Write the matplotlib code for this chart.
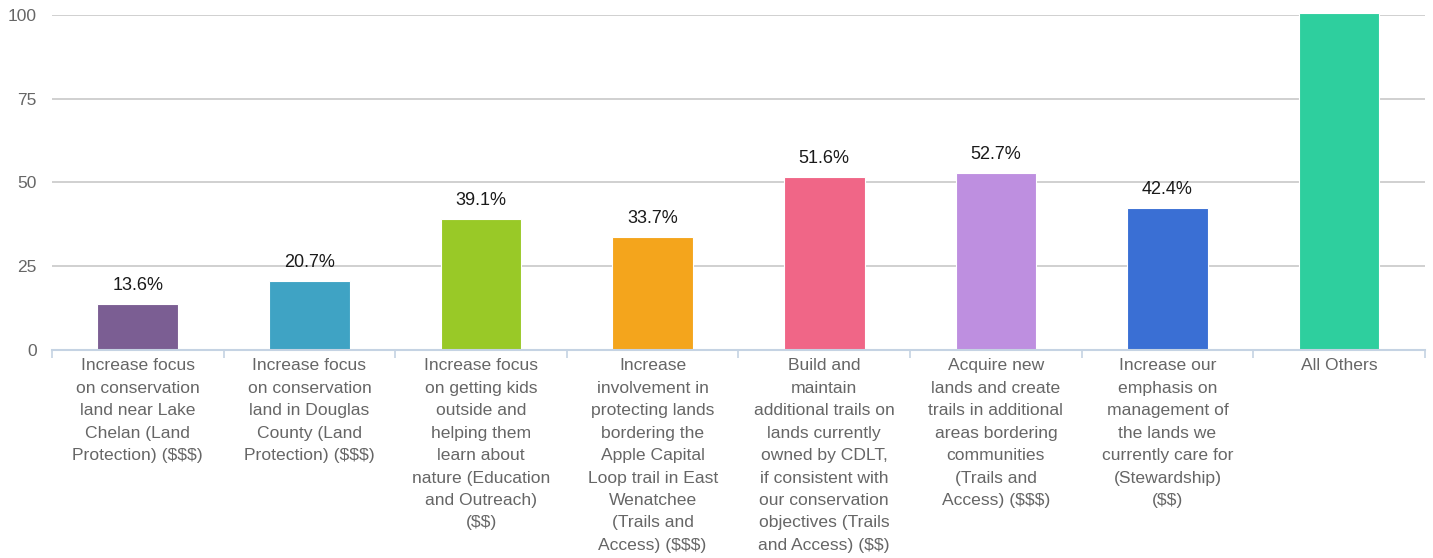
import numpy as np
import matplotlib
matplotlib.use('Agg')
import matplotlib.pyplot as plt

plt.rcParams['font.family'] = ['Liberation Sans', 'DejaVu Sans']
plt.rcParams['text.parse_math'] = False

categories = [
    "Increase focus\non conservation\nland near Lake\nChelan (Land\nProtection) ($$$)",
    "Increase focus\non conservation\nland in Douglas\nCounty (Land\nProtection) ($$$)",
    "Increase focus\non getting kids\noutside and\nhelping them\nlearn about\nnature (Education\nand Outreach)\n($$)",
    "Increase\ninvolvement in\nprotecting lands\nbordering the\nApple Capital\nLoop trail in East\nWenatchee\n(Trails and\nAccess) ($$$)",
    "Build and\nmaintain\nadditional trails on\nlands currently\nowned by CDLT,\nif consistent with\nour conservation\nobjectives (Trails\nand Access) ($$)",
    "Acquire new\nlands and create\ntrails in additional\nareas bordering\ncommunities\n(Trails and\nAccess) ($$$)",
    "Increase our\nemphasis on\nmanagement of\nthe lands we\ncurrently care for\n(Stewardship)\n($$)",
    "All Others",
]
values = [13.6, 20.7, 39.1, 33.7, 51.6, 52.7, 42.4, 100.5]
value_labels = ["13.6%", "20.7%", "39.1%", "33.7%", "51.6%", "52.7%", "42.4%", ""]
colors = ['#7b5e93', '#3fa3c4', '#99c927', '#f4a51c', '#f06687', '#be8fe0', '#3a6fd4', '#2ecf9e']
yticks = [0, 25, 50, 75, 100]

fig = plt.figure(figsize=(14.33, 5.58), dpi=100)
ax = fig.add_axes([0.0363, 0.3728, 0.9581, 0.6003])

x = np.arange(len(values))
bars = ax.bar(x, values, width=0.47, color=colors, edgecolor='white', linewidth=0.8,
              zorder=3, clip_on=False)

for b, lab in zip(bars, value_labels):
    if lab:
        ax.text(b.get_x() + b.get_width() / 2, b.get_height() + 3.0, lab,
                ha='center', va='bottom', fontsize=13, color='#1a1a1a')

ax.set_xlim(-0.5, len(values) - 0.5)
ax.set_ylim(0, 100)
ax.set_yticks(yticks)
ax.set_yticklabels([str(t) for t in yticks], fontsize=12.5, color='#666666')
ax.yaxis.grid(True, color='#c8c8c8', linewidth=1.2, zorder=0)
ax.tick_params(axis='y', length=0, pad=11)

ax.set_xticks(x)
ax.set_xticklabels(categories, fontsize=12.6, color='#666666', linespacing=1.62)
ax.set_xticks(np.arange(len(values) + 1) - 0.5, minor=True)
ax.tick_params(axis='x', which='major', length=0, pad=6)
ax.tick_params(axis='x', which='minor', length=6, color='#c5d3e3', width=1.2)

for s in ['top', 'right', 'left']:
    ax.spines[s].set_visible(False)
ax.spines['bottom'].set_color('#c5d3e3')
ax.spines['bottom'].set_linewidth(1.5)
ax.spines['bottom'].set_zorder(4)

fig.savefig('out.png', dpi=100)
